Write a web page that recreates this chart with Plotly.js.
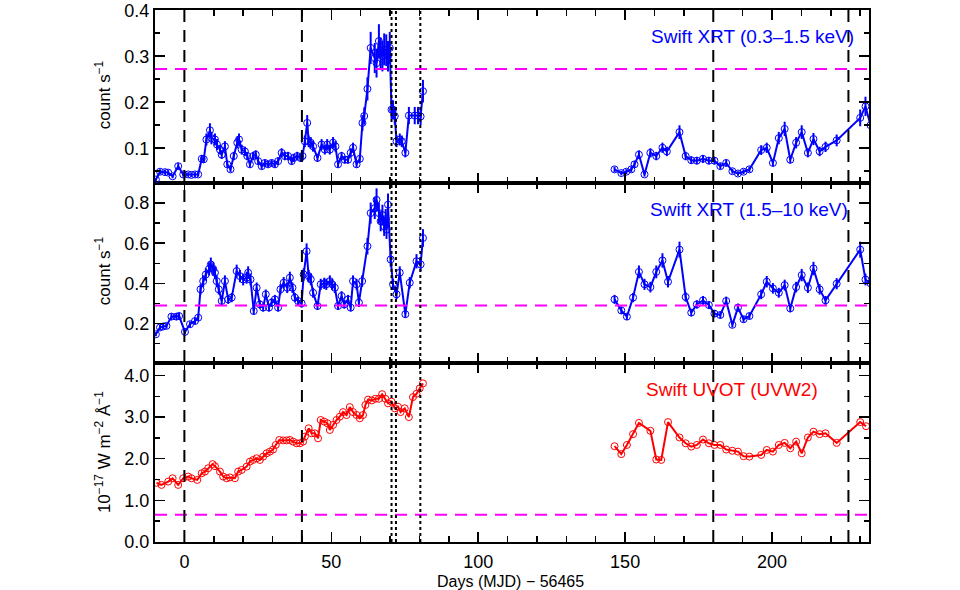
<!DOCTYPE html>
<html>
<head>
<meta charset="utf-8">
<script src="https://cdn.plot.ly/plotly-3.0.1.min.js"></script>
<style>html,body{margin:0;padding:0;background:#fff;}#chart{width:960px;height:590px;}</style>
</head>
<body>
<div id="chart"></div>
<script>
// ---------- DATA ----------
// Swift XRT 0.3-1.5 keV (count/s)
const softDaysA = [-9.7,-8.3,-6.6,-5.5,-4.0,-2.1,-0.4,1.3,2.4,3.6,4.7,5.9,6.6,7.5,8.7,9.2,10.4,11.1,12.1,12.7,13.8,14.6,15.7,16.8,18.0,18.6,19.5,20.6,21.4,22.3,23.4,24.3,25.1,26.3,27.4,28.5,29.7,30.8,31.9,33.1,34.2,35.3,36.5,37.2,38.4,39.5,40.2,41.0,41.8,42.3,43.0,43.8,45.3,46.7,47.8,48.6,49.5,50.6,51.4,52.3,53.5,54.6,55.7,56.6,57.4,58.6,59.7,60.6,61.2,62.3,63.4,64.8,65.4,66.2,66.8,67.4,68.0,68.7,69.3,69.9,70.5,71.0,71.6,72.2,73.3,74.0,75.2,76.4,78.4,79.5,80.4,81.2];
const softRateA = [0.032,0.049,0.048,0.047,0.039,0.061,0.043,0.043,0.042,0.043,0.043,0.077,0.076,0.119,0.139,0.122,0.119,0.108,0.097,0.086,0.104,0.065,0.054,0.083,0.112,0.119,0.097,0.093,0.083,0.065,0.083,0.086,0.072,0.061,0.068,0.065,0.068,0.065,0.072,0.090,0.083,0.083,0.072,0.079,0.083,0.079,0.083,0.115,0.155,0.115,0.112,0.104,0.079,0.108,0.097,0.108,0.097,0.112,0.104,0.065,0.083,0.075,0.075,0.090,0.101,0.065,0.077,0.155,0.170,0.229,0.318,0.296,0.285,0.333,0.307,0.300,0.315,0.313,0.300,0.318,0.184,0.184,0.170,0.115,0.119,0.115,0.090,0.171,0.171,0.171,0.169,0.224];
const softDaysB = [146.4,148.7,150.4,152.1,153.2,154.7,156.6,158.6,160.6,162.7,164.2,168.5,170.6,172.5,174.4,176.5,178.5,180.4,182.4,184.4,186.5,188.4,190.3,192.3,196.3,198.2,200.3,202.3,204.3,206.2,208.2,210.1,212.2,214.1,216.2,218.2,222.0,230.0,231.8,233.5];
const softRateB = [0.054,0.046,0.049,0.054,0.065,0.086,0.043,0.090,0.083,0.101,0.093,0.135,0.083,0.074,0.073,0.077,0.073,0.073,0.061,0.068,0.050,0.045,0.049,0.054,0.096,0.101,0.068,0.122,0.142,0.075,0.112,0.135,0.090,0.120,0.093,0.103,0.117,0.166,0.191,0.150];

// Swift XRT 1.5-10 keV (count/s)
const hardDaysA = [-9.7,-8.3,-7.2,-6.1,-4.4,-2.7,-1.8,0.2,1.9,3.6,4.7,5.5,6.4,7.3,8.4,9.0,9.8,10.4,11.0,11.7,12.7,13.8,14.9,16.1,17.8,18.9,20.0,21.2,21.7,22.5,23.6,24.6,25.7,26.8,27.7,28.8,29.7,30.8,31.9,32.7,33.8,35.0,35.9,36.8,37.6,38.7,39.9,40.6,41.6,42.3,43.0,43.8,45.3,46.4,47.6,48.3,49.5,50.3,51.2,52.3,53.5,54.4,55.7,56.6,57.4,58.6,59.4,60.5,62.3,63.4,64.8,65.4,66.2,66.8,67.4,68.0,68.5,68.8,69.3,70.2,71.0,72.2,73.3,75.2,76.7,79.0,80.4,81.2];
const hardRateA = [0.146,0.180,0.185,0.188,0.234,0.234,0.237,0.158,0.196,0.212,0.229,0.370,0.411,0.444,0.472,0.494,0.472,0.453,0.411,0.370,0.312,0.411,0.320,0.329,0.461,0.436,0.419,0.428,0.453,0.419,0.262,0.378,0.295,0.279,0.345,0.279,0.304,0.320,0.279,0.370,0.403,0.378,0.428,0.378,0.329,0.312,0.300,0.444,0.560,0.436,0.420,0.353,0.287,0.395,0.400,0.395,0.411,0.395,0.378,0.287,0.337,0.295,0.320,0.279,0.411,0.395,0.304,0.411,0.585,0.750,0.775,0.816,0.750,0.709,0.740,0.684,0.720,0.668,0.792,0.519,0.395,0.345,0.453,0.246,0.403,0.510,0.494,0.626];
const hardDaysB = [146.4,148.7,150.6,152.7,154.7,156.6,158.6,160.6,162.7,164.6,168.5,170.6,172.5,174.4,176.5,178.5,180.4,182.4,184.4,186.5,188.4,190.3,192.3,196.3,198.2,200.3,202.3,204.3,206.2,208.2,210.1,212.2,214.1,216.2,218.2,222.0,230.0,231.8,233.5];
const hardRateB = [0.320,0.265,0.234,0.329,0.457,0.395,0.381,0.457,0.514,0.408,0.568,0.332,0.254,0.295,0.315,0.292,0.249,0.242,0.312,0.193,0.279,0.221,0.237,0.345,0.408,0.375,0.353,0.391,0.275,0.381,0.441,0.378,0.474,0.370,0.315,0.398,0.568,0.419,0.400];

// Swift UVOT UVW2 flux (1e-17 W m^-2 A^-1)
const uvDaysA = [-9.5,-7.8,-5.5,-4.0,-2.1,-0.4,1.3,2.4,4.4,5.9,7.0,8.1,9.6,10.4,12.1,13.2,14.4,15.5,17.2,18.3,19.5,21.2,22.3,23.4,24.6,25.7,26.8,28.0,29.1,30.2,31.1,32.3,33.6,34.8,35.9,37.0,38.2,39.3,40.4,41.0,42.3,43.3,44.4,45.5,46.4,47.6,48.7,49.5,50.6,51.8,52.9,54.0,55.2,56.3,57.4,58.6,59.7,60.8,61.6,62.5,63.8,65.0,66.2,67.3,68.4,69.3,70.5,71.6,72.7,73.6,75.0,76.4,77.8,79.0,80.1,81.2];
const uvFluxA = [1.42,1.37,1.45,1.53,1.37,1.53,1.57,1.53,1.49,1.65,1.69,1.77,1.87,1.82,1.69,1.57,1.53,1.55,1.53,1.69,1.73,1.81,1.93,1.97,2.01,1.97,2.05,2.13,2.17,2.22,2.33,2.45,2.44,2.44,2.45,2.41,2.37,2.37,2.41,2.53,2.73,2.61,2.61,2.49,2.93,2.89,2.85,2.69,2.81,2.93,3.01,3.12,3.05,3.24,3.12,3.05,2.97,3.05,3.29,3.42,3.40,3.44,3.44,3.55,3.44,3.33,3.37,3.21,3.25,3.12,3.21,3.00,3.48,3.56,3.69,3.81];
const uvDaysB = [146.4,148.7,150.6,152.7,154.7,158.6,160.6,162.3,164.6,168.5,170.6,172.5,174.4,176.5,178.5,180.4,182.4,184.4,186.5,188.4,190.3,192.3,196.3,198.2,200.3,202.3,204.3,206.2,208.2,210.1,212.2,214.1,216.2,218.2,222.0,230.0,232.0];
const uvFluxB = [2.30,2.11,2.33,2.59,2.86,2.67,1.98,1.97,2.88,2.51,2.37,2.29,2.33,2.46,2.37,2.33,2.33,2.22,2.19,2.17,2.06,2.05,2.09,2.21,2.17,2.33,2.38,2.25,2.41,2.13,2.51,2.65,2.59,2.61,2.38,2.88,2.78];

// Reference levels and event markers
const bgLevels = [0.272, 0.29, 0.65];          // top, middle, bottom panel
const dashedDays = [0, 40, 180, 226];
const dottedDays = [70.5, 72.0, 80.3];
const panelLabels = ["Swift XRT (0.3\u20131.5 keV)", "Swift XRT (1.5\u201310 keV)", "Swift UVOT (UVW2)"];
const xTickVals = [0, 50, 100, 150, 200];

// ---------- CHART ----------
const FONT = "Liberation Sans, Arial, Helvetica, sans-serif";
const BLUE = "#0000ff", RED = "#ff0000", MAG = "#ff00ff";

function series(x, y, xa, ya, color, err) {
  const t = {
    x: x, y: y, xaxis: xa, yaxis: ya, type: "scatter", mode: "lines+markers",
    line: {color: color, width: 2},
    marker: {symbol: "circle-open", size: 7, color: color, line: {width: 1, color: color}},
    hoverinfo: "x+y", showlegend: false, cliponaxis: true
  };
  if (err) t.error_y = {type: "percent", value: err, color: color, thickness: 2, width: 0};
  return t;
}

const traces = [
  series(softDaysA, softRateA, "x3", "y3", BLUE, 11),
  series(softDaysB, softRateB, "x3", "y3", BLUE, 11),
  series(hardDaysA, hardRateA, "x2", "y2", BLUE, 7),
  series(hardDaysB, hardRateB, "x2", "y2", BLUE, 7),
  series(uvDaysA, uvFluxA, "x", "y", RED, 0),
  series(uvDaysB, uvFluxB, "x", "y", RED, 0)
];

const XR = [-10, 233];
function xAxis(anchor, labels) {
  return {
    anchor: anchor, range: XR, showgrid: false, zeroline: false,
    showline: true, linecolor: "#000", linewidth: 2, mirror: "allticks",
    ticks: "inside", ticklen: 10, tickwidth: 1.5, tickcolor: "#000",
    tickmode: "array", tickvals: xTickVals, showticklabels: labels,
    ticklabelstandoff: 2, ticklabeloverflow: "allow",
    minor: {dtick: 10, tick0: 0, ticklen: 6, tickwidth: 1.5, tickcolor: "#000", ticks: "inside"},
    tickfont: {family: FONT, size: 18, color: "#000"}
  };
}
function yAxis(domain, range, dtick, minor) {
  return {
    domain: domain, range: range, showgrid: false, zeroline: false,
    showline: true, linecolor: "#000", linewidth: 2, mirror: "allticks",
    ticks: "inside", ticklen: 10, tickwidth: 1.5, tickcolor: "#000",
    dtick: dtick, tick0: 0, tickformat: ".1f", ticklabeloverflow: "allow",
    minor: {dtick: minor, tick0: 0, ticklen: 5, tickwidth: 1.5, tickcolor: "#000", ticks: "inside"},
    tickfont: {family: FONT, size: 18, color: "#000"}
  };
}

const shapes = [];
const panelY = ["y3", "y2", "y"];
const panelX = ["x3", "x2", "x"];
bgLevels.forEach((v, i) => {
  shapes.push({type: "line", xref: panelX[i] + " domain", yref: panelY[i], x0: 0, x1: 1, y0: v, y1: v,
    line: {color: MAG, width: 2, dash: "12px,8px"}});
});
dashedDays.forEach(d => {
  shapes.push({type: "line", xref: "x", yref: "paper", x0: d, x1: d, y0: 0, y1: 1,
    line: {color: "#000", width: 2, dash: "12px,8px"}});
});
dottedDays.forEach(d => {
  shapes.push({type: "line", xref: "x", yref: "paper", x0: d, x1: d, y0: 0, y1: 1,
    line: {color: "#000", width: 2, dash: "dot"}});
});

const annotations = [
  {xref: "x3", yref: "y3", x: 228.7, y: 0.343, xanchor: "right", yanchor: "middle", showarrow: false,
   text: panelLabels[0], font: {family: FONT, size: 19, color: BLUE}},
  {xref: "x2", yref: "y2", x: 226.4, y: 0.767, xanchor: "right", yanchor: "middle", showarrow: false,
   text: panelLabels[1], font: {family: FONT, size: 19, color: BLUE}},
  {xref: "x", yref: "y", x: 216.2, y: 3.67, xanchor: "right", yanchor: "middle", showarrow: false,
   text: panelLabels[2], font: {family: FONT, size: 19, color: RED}},
  {xref: "paper", yref: "paper", x: -0.0728, y: 0.840, xanchor: "center", yanchor: "middle", showarrow: false,
   textangle: -90, text: "count s<sup>\u22121</sup>", font: {family: FONT, size: 17, color: "#000"}},
  {xref: "paper", yref: "paper", x: -0.0728, y: 0.509, xanchor: "center", yanchor: "middle", showarrow: false,
   textangle: -90, text: "count s<sup>\u22121</sup>", font: {family: FONT, size: 17, color: "#000"}},
  {xref: "paper", yref: "paper", x: -0.0728, y: 0.169, xanchor: "center", yanchor: "middle", showarrow: false,
   textangle: -90, text: "10<sup>\u221217</sup> W m<sup>\u22122</sup> \u00c5<sup>\u22121</sup>", font: {family: FONT, size: 17, color: "#000"}},
  {xref: "paper", yref: "paper", x: 0.498, y: -0.0745, xanchor: "center", yanchor: "middle", showarrow: false,
   text: "Days (MJD) \u2212 56465", font: {family: FONT, size: 16, color: "#000"}}
];

const layout = {
  width: 960, height: 590,
  margin: {l: 155, r: 91, t: 10, b: 48},
  paper_bgcolor: "#ffffff", plot_bgcolor: "rgba(0,0,0,0)",
  font: {family: FONT, color: "#000"},
  showlegend: false,
  xaxis: xAxis("y", true),
  xaxis2: Object.assign(xAxis("y2", false), {matches: "x"}),
  xaxis3: Object.assign(xAxis("y3", false), {matches: "x"}),
  yaxis: yAxis([0, 0.3365], [-0.002, 4.3], 1, 0.5),
  yaxis2: yAxis([0.3365, 0.6748], [0.003, 0.9], 0.2, 0.1),
  yaxis3: yAxis([0.6748, 1], [0.0244, 0.4005], 0.1, 0.05),
  shapes: shapes,
  annotations: annotations
};

Plotly.newPlot("chart", traces, layout, {staticPlot: true, displayModeBar: false});
</script>
</body>
</html>
